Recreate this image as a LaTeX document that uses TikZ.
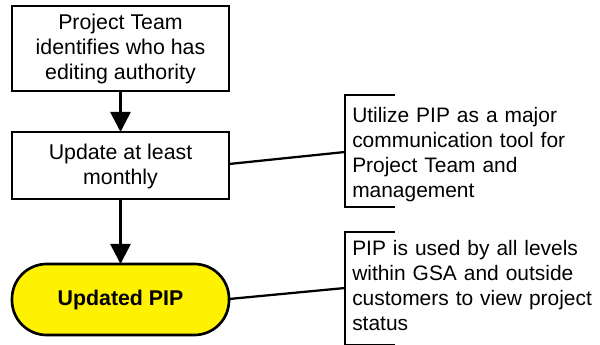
\documentclass[tikz,border=0pt]{standalone}
\usepackage{fontspec}
\setmainfont{Liberation Sans}
\usetikzlibrary{arrows.meta}
\begin{document}
\begin{tikzpicture}[x=0.75pt,y=-0.75pt,
  every node/.style={font=\fontsize{16pt}{18.75pt}\selectfont, inner sep=0pt},
  stepbox/.style={draw, line width=2pt, fill=white},
  termbox/.style={draw, line width=2pt, fill=yellow, rounded corners=26pt},
  flow/.style={line width=2pt, -{Triangle[width=15pt,length=15pt]}},
  link/.style={line width=1.7pt},
  brace/.style={line width=2pt},
  note/.style={anchor=north west, align=left, text width=250pt, font=\fontsize{15.7pt}{18.75pt}\selectfont}]
\useasboundingbox (0,0) rectangle (600,345);
% boxes
\draw[stepbox] (12,6) rectangle (229,91);
\node[align=center] (t1) at (120.5,49) {Project Team\\identifies who has\\editing authority};
\coordinate (b1s) at (120.5,91);
\draw[stepbox] (12,132) rectangle (229,199);
\node[align=center] (t2) at (120.5,166) {Update at least\\monthly};
\coordinate (b2n) at (120.5,132);
\coordinate (b2s) at (120.5,199);
\coordinate (b2e) at (229,164);
\draw[termbox] (12,264) rectangle (229,335);
\node[font=\fontsize{16pt}{18.75pt}\selectfont\bfseries] (t3) at (120.5,300) {Updated PIP};
\coordinate (b3n) at (120.5,264);
\coordinate (b3e) at (229,299);
% arrows
\draw[flow] (b1s) -- (b2n);
\draw[flow] (b2s) -- (b3n);
% annotation 1
\coordinate (a1t) at (345,95);
\coordinate (a1m) at (345,152);
\coordinate (a1b) at (345,207);
\draw[brace] (395,95) -- (a1t) -- (a1b) -- (395,207);
\draw[link] (b2e) -- (a1m);
\node[note] (n1) at (352,107) {Utilize PIP as a major\\communication tool for\\Project Team and\\management};
% annotation 2
\coordinate (a2t) at (345,232);
\coordinate (a2m) at (345,288);
\coordinate (a2b) at (345,345);
\draw[brace] (395,232) -- (a2t) -- (a2b) -- (395,345);
\draw[link] (b3e) -- (a2m);
\node[note] (n2) at (352,240) {PIP is used by all levels\\within GSA and outside\\customers to view project\\status};
\end{tikzpicture}
\end{document}
